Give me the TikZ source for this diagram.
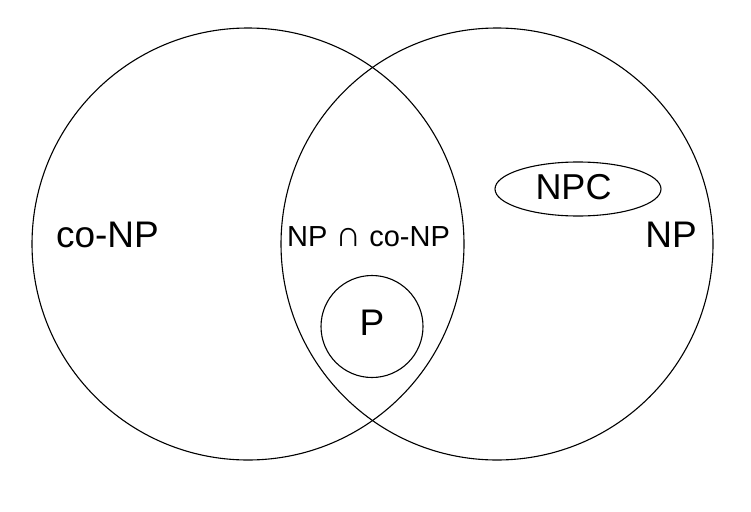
\documentclass[tikz,border=0pt]{standalone}
\usepackage{fontspec}
\setmainfont{Liberation Sans}
\usetikzlibrary{shapes.geometric}
\begin{document}
\begin{tikzpicture}[x=1pt,y=-1pt,
  setline/.style={draw=black,line width=1.1pt,inner sep=0pt,outer sep=0pt},
  lbl/.style={anchor=base,inner sep=0pt},
  big/.style={lbl,font=\fontsize{37}{40}\selectfont},
  mid/.style={lbl,font=\fontsize{29}{34}\selectfont}]
\useasboundingbox (0,0) rectangle (751,511);
\fill[white] (0,0) rectangle (751,511);
\node[setline,circle,minimum size=432pt] (conp) at (248,244) {};
\node[setline,circle,minimum size=432pt] (np) at (497,244) {};
\node[setline,circle,minimum size=102pt] (p) at (372,326.5) {};
\node[setline,ellipse,minimum width=166pt,minimum height=54pt] (npc) at (578,189) {};
\node[big] (conplbl) at (107.5,247) {co-NP};
\node[big] (nplbl) at (671,247) {NP};
\node[mid] (cap) at (368.5,246) {NP {\fontsize{36}{36}\selectfont ∩} co-NP};
\node[big] (plbl) at (372,335) {P};
\node[big,font=\fontsize{36}{40}\selectfont] (npclbl) at (573.5,199) {NPC};
\end{tikzpicture}
\end{document}
